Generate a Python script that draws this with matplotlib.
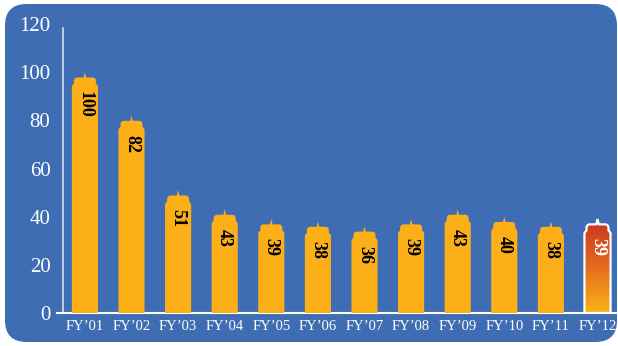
import numpy as np
import matplotlib
matplotlib.use('Agg')
import matplotlib.pyplot as plt
from matplotlib.patches import FancyBboxPatch, PathPatch
from matplotlib.path import Path
from matplotlib.colors import LinearSegmentedColormap

anios = ['FY’01', 'FY’02', 'FY’03', 'FY’04', 'FY’05', 'FY’06',
         'FY’07', 'FY’08', 'FY’09', 'FY’10', 'FY’11', 'FY’12']
valores = [100, 82, 51, 43, 39, 38, 36, 39, 43, 40, 38, 39]
ticks_y = [0, 20, 40, 60, 80, 100, 120]

azul = '#3F6DB4'
naranja = '#FCAF17'
fuente = 'Liberation Serif'

fig = plt.figure(figsize=(6.18, 3.46), dpi=100)
fig.patch.set_facecolor('white')

# fondo azul redondeado
fondo = FancyBboxPatch((5 / 618, 4 / 346), 612 / 618, 338 / 346,
                       boxstyle='round,pad=0,rounding_size=0.035',
                       transform=fig.transFigure, facecolor=azul,
                       edgecolor='none', mutation_aspect=618 / 346, zorder=-5)
fig.patches.append(fondo)

ax = fig.add_axes([63 / 618, 33 / 346, 555 / 618, 289 / 346])
ax.set_facecolor('none')
ax.set_zorder(1)


def forma_barra(x, v, w=0.56):
    # cuerpo con una cupula y una punta arriba
    hw = w / 2
    b = v - 5.5
    cw = 0.42 * w
    c = v - 2.2
    s = 0.05 * w
    rx, ry = 0.07, 1.3
    ang = np.linspace(np.pi, np.pi / 2, 6)
    izq = [(x - cw + rx + rx * np.cos(a), c - ry + ry * np.sin(a)) for a in ang]
    ang2 = np.linspace(np.pi / 2, 0, 6)
    der = [(x + cw - rx + rx * np.cos(a), c - ry + ry * np.sin(a)) for a in ang2]
    pts = [(x - hw, 0), (x - hw, b - 0.4), (x - hw + 0.02, b + 0.3),
           (x - cw, b + 0.8)] + izq + [(x - s, c), (x, v), (x + s, c)] + der + \
          [(x + cw, b + 0.8), (x + hw - 0.02, b + 0.3), (x + hw, b - 0.4),
           (x + hw, 0), (x - hw, 0)]
    codigos = [Path.MOVETO] + [Path.LINETO] * (len(pts) - 2) + [Path.CLOSEPOLY]
    return Path(pts, codigos)


grad = LinearSegmentedColormap.from_list('grad', ['#FBB417', '#E46A1F', '#C8341F'])

for i, v in enumerate(valores):
    ultimo = i == len(valores) - 1
    ruta = forma_barra(i, v)
    if ultimo:
        parche = PathPatch(ruta, facecolor='none', edgecolor='white', lw=1.6, zorder=4)
        ax.add_patch(parche)
        img = ax.imshow(np.linspace(0, 1, 256).reshape(-1, 1), cmap=grad,
                        origin='lower', aspect='auto',
                        extent=[i - 0.3, i + 0.3, 0, v], zorder=3)
        img.set_clip_path(parche)
        color_txt = 'white'
    else:
        ax.add_patch(PathPatch(ruta, facecolor=naranja, edgecolor='none', zorder=3))
        color_txt = 'black'
    ax.text(i, v - 8, str(v), rotation=270, ha='center', va='top',
            fontsize=13, fontweight='bold', family=fuente, color=color_txt, zorder=5)

ax.set_xlim(-0.47, 11.44)
ax.set_ylim(0, 120)

ax.set_xticks(range(len(anios)))
ax.set_xticklabels(anios, family=fuente, fontsize=10.5, color='white')
ax.set_yticks(ticks_y)
ax.set_yticklabels([str(t) for t in ticks_y], family=fuente, fontsize=15, color='white')
ax.tick_params(axis='x', length=0, pad=5)
ax.tick_params(axis='y', length=0, pad=9)

for lado in ['top', 'right']:
    ax.spines[lado].set_visible(False)
ax.spines['left'].set_color('#D5DEEE')
ax.spines['left'].set_linewidth(1.2)
ax.spines['left'].set_bounds(0, 118.5)
ax.spines['bottom'].set_color('white')
ax.spines['bottom'].set_linewidth(1.5)
ax.plot([-0.6, -0.47], [0, 0], color='white', lw=1.5, clip_on=False)

fig.savefig('out.png', dpi=100, facecolor='white')
